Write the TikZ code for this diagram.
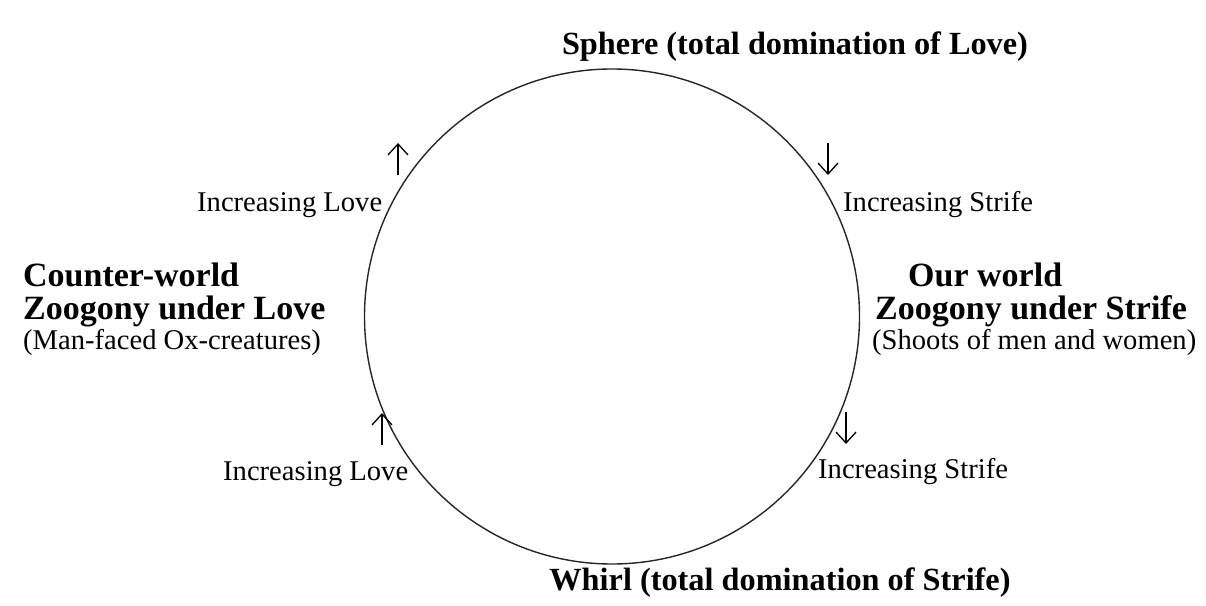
\documentclass[tikz,border=0pt]{standalone}
\usepackage{fontspec}
\setmainfont{Liberation Serif}
\usetikzlibrary{arrows.meta}

\tikzset{
  phase/.style={font=\fontsize{32.3}{36}\selectfont\bfseries, anchor=base, inner sep=0pt},
  world/.style={font=\fontsize{34}{38}\selectfont\bfseries, anchor=base west, inner sep=0pt},
  creature/.style={font=\fontsize{28.6}{32}\selectfont, anchor=base west, inner sep=0pt},
  trend/.style={font=\fontsize{28.6}{32}\selectfont, anchor=base west, inner sep=0pt},
  drift/.style={line width=1.3pt, -{Straight Barb[length=11pt,width=20pt,line width=1.3pt]}}
}

\begin{document}
\begin{tikzpicture}[x=1pt,y=1pt]

\useasboundingbox (0,0) rectangle (1206,605);

% The cycle
\draw[black!85, line width=1.4pt] (612,288.5) circle (247.5);

% Poles of the cycle
\node[phase] (sphere) at (795,550) {Sphere (total domination of Love)};
\node[phase] (whirl)  at (780,15)  {Whirl (total domination of Strife)};

% Counter-world (left)
\node[world]    (counter)  at (23,318) {Counter-world};
\node[world]    (zooLove)  at (23,285) {Zoogony under Love};
\node[creature] (oxen)     at (23,255) {(Man-faced Ox-creatures)};

% Our world (right)
\node[world]    (ours)     at (908,318) {Our world};
\node[world]    (zooStrife) at (875,285) {Zoogony under Strife};
\node[creature] (shoots)   at (872,255) {(Shoots of men and women)};

% Direction labels
\node[trend] (loveTop)   at (197,393) {Increasing Love};
\node[trend] (strifeTop) at (843,393) {Increasing Strife};
\node[trend] (loveBot)   at (223,125) {Increasing Love};
\node[trend] (strifeBot) at (818,127) {Increasing Strife};

% Direction arrows
\coordinate (loveTopTail)   at (398,430);
\coordinate (loveTopHead)   at (398,462);
\coordinate (strifeTopTail) at (828,462);
\coordinate (strifeTopHead) at (828,430);
\coordinate (loveBotTail)   at (382,160);
\coordinate (loveBotHead)   at (382,192);
\coordinate (strifeBotTail) at (846,193);
\coordinate (strifeBotHead) at (846,161);

\draw[drift] (loveTopTail)   -- (loveTopHead);
\draw[drift] (strifeTopTail) -- (strifeTopHead);
\draw[drift] (loveBotTail)   -- (loveBotHead);
\draw[drift] (strifeBotTail) -- (strifeBotHead);

\end{tikzpicture}
\end{document}
